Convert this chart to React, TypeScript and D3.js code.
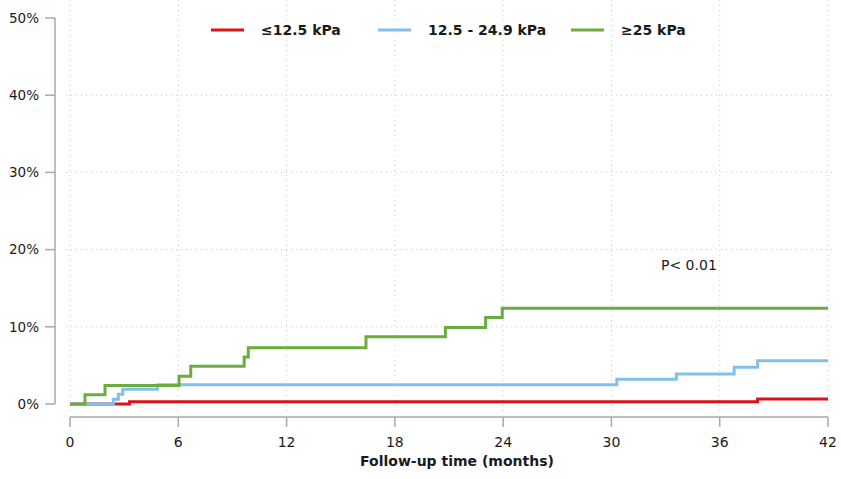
import React, { useRef, useEffect } from 'react';
import * as d3 from 'd3';

// cumulative incidence (%) by month
const lowTimes = [0, 3.3, 38.1, 42];
const lowValues = [0, 0.3, 0.65, 0.65];
const midTimes = [0, 2.4, 2.68, 2.92, 4.86, 30.3, 33.6, 36.8, 38.1, 42];
const midValues = [0, 0.6, 1.25, 1.9, 2.5, 3.2, 3.9, 4.75, 5.6, 5.6];
const highTimes = [0, 0.83, 1.94, 6.04, 6.69, 9.65, 9.88, 16.4, 20.8, 23.03, 23.95, 42];
const highValues = [0, 1.2, 2.4, 3.6, 4.9, 6.1, 7.3, 8.7, 9.9, 11.2, 12.4, 12.4];

const seriesNames = ['≤12.5 kPa', '12.5 - 24.9 kPa', '≥25 kPa'];
const seriesColors = ['#dc1219', '#82c0ec', '#6aac3e'];
const xTicks = [0, 6, 12, 18, 24, 30, 36, 42];
const yTicks = [0, 10, 20, 30, 40, 50];

const W = 841, H = 479;

export default function App() {
  const ref = useRef<SVGSVGElement>(null);

  useEffect(() => {
    const svg = d3.select(ref.current);
    svg.selectAll('*').remove();

    const x = d3.scaleLinear().domain([0, 42]).range([70, 828]);
    const y = d3.scaleLinear().domain([0, 50]).range([404, 18]);
    const font = 'DejaVu Sans, Verdana, sans-serif';

    // grid
    const grid = svg.append('g').attr('stroke', '#c8c8c8').attr('stroke-width', 1).attr('stroke-dasharray', '1,4');
    grid.selectAll('line.v').data(xTicks).enter().append('line')
      .attr('x1', d => x(d)).attr('x2', d => x(d)).attr('y1', 0).attr('y2', 412);
    grid.selectAll('line.h').data(yTicks.filter(d => d > 0 && d < 50)).enter().append('line')
      .attr('x1', 66).attr('x2', 836).attr('y1', d => y(d)).attr('y2', d => y(d));

    // y axis
    const axisColor = '#a8a8a8';
    svg.append('line').attr('x1', 55).attr('x2', 55).attr('y1', y(50)).attr('y2', y(0))
      .attr('stroke', axisColor).attr('stroke-width', 1.5);
    const yt = svg.append('g').selectAll('g').data(yTicks).enter().append('g');
    yt.append('line').attr('x1', 45).attr('x2', 55).attr('y1', d => y(d)).attr('y2', d => y(d))
      .attr('stroke', axisColor).attr('stroke-width', 1.5);
    yt.append('text').attr('x', 39).attr('y', d => y(d)).attr('dy', '0.35em')
      .attr('text-anchor', 'end').attr('font-family', font).attr('font-size', 13.5).attr('fill', '#1a1a1a')
      .text(d => d + '%');

    // x axis
    svg.append('line').attr('x1', x(0)).attr('x2', x(42)).attr('y1', 417).attr('y2', 417)
      .attr('stroke', axisColor).attr('stroke-width', 1.5);
    const xt = svg.append('g').selectAll('g').data(xTicks).enter().append('g');
    xt.append('line').attr('x1', d => x(d)).attr('x2', d => x(d)).attr('y1', 417).attr('y2', 427)
      .attr('stroke', axisColor).attr('stroke-width', 1.5);
    xt.append('text').attr('x', d => x(d)).attr('y', 447)
      .attr('text-anchor', 'middle').attr('font-family', font).attr('font-size', 14).attr('fill', '#1a1a1a')
      .text(d => d);

    svg.append('text').attr('x', 457).attr('y', 466).attr('text-anchor', 'middle')
      .attr('font-family', font).attr('font-size', 14).attr('font-weight', 'bold').attr('fill', '#1a1a1a')
      .text('Follow-up time (months)');

    // step curves
    const line = d3.line<[number, number]>().x(d => x(d[0])).y(d => y(d[1])).curve(d3.curveStepAfter);
    const series = [
      d3.zip(lowTimes, lowValues),
      d3.zip(midTimes, midValues),
      d3.zip(highTimes, highValues),
    ] as [number, number][][];
    series.forEach((s, i) => {
      svg.append('path').attr('d', line(s)).attr('fill', 'none')
        .attr('stroke', seriesColors[i]).attr('stroke-width', 3);
    });

    // legend
    const legendX = [211, 378, 571];
    const lg = svg.append('g').selectAll('g').data(seriesNames).enter().append('g');
    lg.append('line').attr('x1', (d, i) => legendX[i]).attr('x2', (d, i) => legendX[i] + 33)
      .attr('y1', 30).attr('y2', 30).attr('stroke', (d, i) => seriesColors[i]).attr('stroke-width', 3);
    lg.append('text').attr('x', (d, i) => legendX[i] + 50).attr('y', 30).attr('dy', '0.35em')
      .attr('font-family', font).attr('font-size', 14).attr('font-weight', 'bold').attr('fill', '#1a1a1a')
      .text(d => d);

    svg.append('text').attr('x', 661).attr('y', 270).attr('font-family', font).attr('font-size', 14)
      .attr('fill', '#1a1a1a').text('P< 0.01');
  }, []);

  return (
    <svg ref={ref} width={W} height={H}
      style={{ position: 'absolute', left: 0, top: 0, background: '#fff' }} />
  );
}
